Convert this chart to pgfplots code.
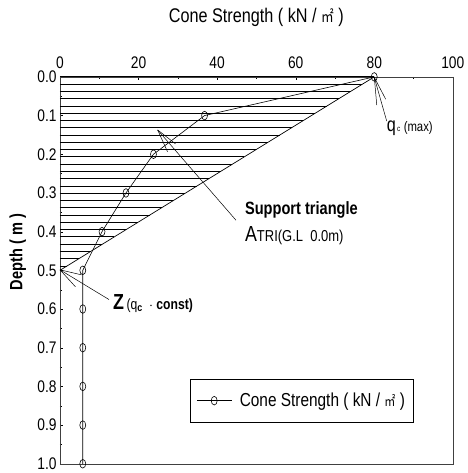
\documentclass[border=0pt]{standalone}
\usepackage{pgfplots}
\pgfplotsset{compat=1.18}
\usepackage{fontspec}
\setmainfont{Liberation Sans}[FakeStretch=0.82]
\newfontfamily\cjk{Noto Sans CJK KR}[FakeStretch=0.8]
\newcommand{\msq}{{\cjk ㎡}}
\newcommand{\fs}[1]{\fontsize{#1}{#1}\selectfont}
% position given in picture units (1 unit = 1bp), origin at top-left
\newcommand{\px}[2]{(axis cs:{(#1-60.5)/3.962},{(#2-77.5)/390})}

\pgfplotstableread{
depth qc
0.0 80.0
0.1 36.8
0.2 23.8
0.3 16.8
0.4 10.7
0.5 5.8
0.6 5.8
0.7 5.8
0.8 5.8
0.9 5.8
1.0 5.8
}\conedata

\begin{document}
\begin{tikzpicture}
\begin{axis}[
  scale only axis,
  width=396bp, height=390bp,
  xmin=0, xmax=100, ymin=0, ymax=1,
  y dir=reverse,
  clip=false,
  axis line style={black!75},
  xtick={0,20,...,100},
  minor x tick num=1,
  ytick={0,0.1,...,1.0},
  minor y tick num=1,
  tick align=inside,
  major tick length=3.5bp, minor tick length=2.5bp,
  tick style={black},
  xticklabel pos=right,
  xtick pos=right,
  ytick pos=left,
  /pgf/number format/assume math mode=true,
  tick label style={font=\fs{17}},
  yticklabel style={/pgf/number format/.cd, fixed, fixed zerofill, precision=1},
  xticklabel style={yshift=5bp},
  legend style={at={(0.332,0.219)}, anchor=north west, draw=black,
    font=\fs{19}, inner xsep=6bp, inner ysep=12bp},
  legend image code/.code={\draw[mark repeat=2,mark phase=2] plot coordinates {(0bp,0bp) (17.5bp,0bp) (35bp,0bp)};},
]
% horizontal hatching of the support triangle
\pgfplotsinvokeforeach{0,1,...,26}{
  \draw[black, line width=0.8bp] (axis cs:0,{#1*0.0188}) -- (axis cs:{80-160*#1*0.0188},{#1*0.0188});
}
% hypotenuse of the support triangle
\addplot[black, line width=0.7bp, forget plot] coordinates {(80,0) (0,0.5)};
% cone strength profile
\addplot[black, line width=0.6bp, mark=o, mark size=3bp,
  mark options={yscale=1.45, line width=0.6bp}] table[x=qc, y=depth] {\conedata};
\addlegendentry{\hspace{6bp}Cone Strength ( kN / {\fs{14}\msq} )}

% annotation: q_c(max)
\draw[black, line width=0.5bp] \px{377.5}{78} -- \px{390}{122};
\draw[black, line width=0.5bp] \px{377.5}{78} -- \px{380}{106};
\draw[black, line width=0.5bp] \px{377.5}{78} -- \px{389}{100};
\node[anchor=west, inner sep=0pt] at \px{390}{129} {\fs{20}q{\fs{8}\,c}\,{\fs{14}(max)}};

% annotation: support triangle
\draw[black, line width=0.5bp] \px{159}{131} -- \px{238}{222};
\draw[black, line width=0.5bp] \px{159}{131} -- \px{169}{153};
\draw[black, line width=0.5bp] \px{159}{131} -- \px{177}{145};
\node[anchor=west, inner sep=0pt] at \px{247}{212} {\fs{18}\bfseries Support triangle};
\node[anchor=west, inner sep=0pt] at \px{247}{238} {{\fs{22}A}{\fs{16}TRI(G.L\ \ 0.0m)}};

% annotation: Z(q_c const)
\draw[black, line width=0.5bp] \px{60.5}{272} -- \px{110}{302};
\draw[black, line width=0.5bp] \px{60.5}{272} -- \px{76}{289};
\draw[black, line width=0.5bp] \px{60.5}{272} -- \px{82}{277};
\node[anchor=west, inner sep=0pt] at \px{114}{306} {{\fs{22}\bfseries Z}{\fs{15}\,(q{\fs{11}\raisebox{-0.3ex}{\bfseries c}}\ \ $\cdot$ \bfseries const)}};

% titles
\node at \px{258.5}{18} {\fs{20}Cone Strength ( kN / {\fs{16}\msq} )};
\node[rotate=90] at \px{18}{254} {\fs{18}\bfseries Depth ( m )};

% picture frame
\path \px{0}{0} rectangle \px{469}{473};
\end{axis}
\end{tikzpicture}
\end{document}
